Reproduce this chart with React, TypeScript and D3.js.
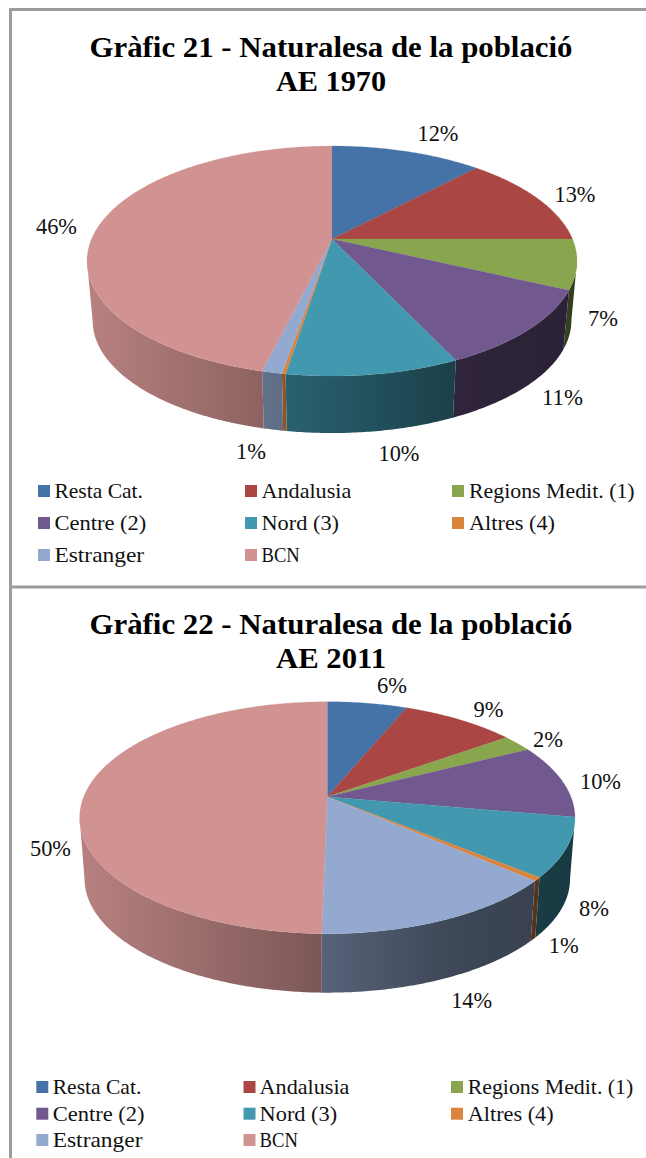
import React from "react";
import * as d3 from "d3";

const categories = ["Resta Cat.", "Andalusia", "Regions Medit. (1)", "Centre (2)", "Nord (3)", "Altres (4)", "Estranger", "BCN"];
const colors = ["#4572a7", "#aa4643", "#89a54e", "#71588f", "#4198af", "#db843d", "#93a9cf", "#d19392"];
const values1970 = [12, 13, 7, 11, 9.5, 0.2, 1.1, 46.2];
const values2011 = [6.2, 8.9, 2.4, 10.3, 8.2, 0.5, 13.8, 49.7];
const labels1970 = ["12%", "13%", "7%", "11%", "10%", "", "1%", "46%"];
const labels2011 = ["6%", "9%", "2%", "10%", "8%", "1%", "14%", "50%"];
const legendWidths = [88.6, 89.8, 165.6, 91.9, 77.5, 86, 89.8, 38.3];

const SERIF = "'Liberation Serif', serif";
const TAU = Math.PI * 2;

type Cfg = {
  id: string; title1: string; title2: string; titleY: [number, number]; titleX: number;
  values: number[]; labels: string[]; labelPos: [number, number][];
  cx: number; apexY: number; rx: number; up: number; down: number; wallScale: number; wallOff: number;
  legendX: number[]; legendTextX: number[]; legendY: number[];
};

const charts: Cfg[] = [
  {
    id: "a", title1: "Gràfic 21 - Naturalesa de la població", title2: "AE 1970", titleY: [56.7, 90.7], titleX: 331,
    values: values1970, labels: labels1970,
    labelPos: [[438, 140.5], [575, 202], [603, 325.7], [562.5, 405], [399, 461], [0, 0], [251, 459], [56.5, 234]],
    cx: 332, apexY: 239, rx: 245, up: 93, down: 137, wallScale: 0.977, wallOff: 60.2,
    legendX: [38, 245, 452], legendTextX: [54.4, 261.5, 469], legendY: [498, 530, 562],
  },
  {
    id: "b", title1: "Gràfic 22 - Naturalesa de la població", title2: "AE 2011", titleY: [634, 668], titleX: 331,
    values: values2011, labels: labels2011,
    labelPos: [[392, 693], [488.5, 716.7], [548, 746.7], [600.5, 789], [594, 915.7], [563.7, 953], [471.7, 1007.7], [50.5, 855.7]],
    cx: 327.3, apexY: 796.7, rx: 247.7, up: 95, down: 137, wallScale: 0.98, wallOff: 61.7,
    legendX: [36.3, 243.5, 451], legendTextX: [52.7, 259.6, 467.7], legendY: [1094, 1120.7, 1147],
  },
];

const shade = d3.scaleLinear<number>().domain([0, 0.36, 0.5, 0.75, 1]).range([0.88, 0.67, 0.58, 0.42, 0.38]).clamp(true);

function scaleColor(hex: string, f: number) {
  const c = d3.rgb(hex);
  return d3.rgb(c.r * f, c.g * f, c.b * f).formatHex();
}

function Pie3D({ c }: { c: Cfg }) {
  const k = (c.down - c.up) / (c.down + c.up);
  const B = c.up * (1 + k);
  const A = c.rx * Math.sqrt(1 - k * k);
  const project = (t: number, r = 1): [number, number] => {
    const x = r * Math.sin(t);
    const y = -r * Math.cos(t);
    const w = 1 - k * y;
    return [c.cx + (A * x) / w, c.apexY + (B * y) / w];
  };
  const projectLow = (t: number): [number, number] => {
    const [x, y] = project(t);
    return [c.cx + (x - c.cx) * c.wallScale, c.apexY + (y - c.apexY) * c.wallScale + c.wallOff];
  };
  const arcs = d3.pie<number>().sort(null).value((d) => d)(c.values);
  const line = d3.line().curve(d3.curveLinear);
  const samples = (a: number, b: number) => {
    const n = Math.max(2, Math.ceil((b - a) / 0.01));
    return d3.range(n + 1).map((i) => a + ((b - a) * i) / n);
  };
  const visA = Math.PI - Math.acos(k);
  const visB = TAU - visA;
  const xFrac = d3.scaleLinear().domain([c.cx - c.rx, c.cx + c.rx]).range([0, 1]);

  return (
    <g>
      <defs>
        {arcs.map((s, i) => {
          const a = Math.max(s.startAngle, visA);
          const b = Math.min(s.endAngle, visB);
          if (b <= a) return null;
          const xs = samples(a, b).map((t) => project(t)[0]);
          const [x0, x1] = d3.extent(xs) as [number, number];
          const stops = d3.range(7).map((j) => x0 + ((x1 - x0) * j) / 6);
          return (
            <linearGradient key={i} id={`${c.id}w${i}`} gradientUnits="userSpaceOnUse" x1={x0} x2={x1 + 0.01} y1={0} y2={0}>
              {stops.map((x, j) => (
                <stop key={j} offset={j / 6} stopColor={scaleColor(colors[i], shade(xFrac(x)))} />
              ))}
            </linearGradient>
          );
        })}
      </defs>
      {arcs.map((s, i) => {
        const a = Math.max(s.startAngle, visA);
        const b = Math.min(s.endAngle, visB);
        if (b <= a) return null;
        const ts = samples(a, b);
        const pts = [...ts.map((t) => project(t)), ...ts.slice().reverse().map((t) => projectLow(t))];
        return <path key={i} d={line(pts) + "Z"} fill={`url(#${c.id}w${i})`} />;
      })}
      {arcs.map((s, i) => {
        const pts: [number, number][] = [[c.cx, c.apexY], ...samples(s.startAngle, s.endAngle).map((t) => project(t))];
        return <path key={i} d={line(pts) + "Z"} fill={colors[i]} stroke={colors[i]} strokeWidth={0.2} />;
      })}
      {c.labels.map((t, i) =>
        t ? (
          <text key={i} x={c.labelPos[i][0]} y={c.labelPos[i][1]} textAnchor="middle" fontFamily={SERIF} fontSize={22.5} fill="#111" textLength={t.length === 3 ? 41 : 30} lengthAdjust="spacingAndGlyphs">
            {t}
          </text>
        ) : null
      )}
      <text x={c.titleX} y={c.titleY[0]} textAnchor="middle" fontFamily={SERIF} fontWeight="bold" fontSize={30} fill="#000" textLength={483} lengthAdjust="spacingAndGlyphs">
        {c.title1}
      </text>
      <text x={c.titleX} y={c.titleY[1]} textAnchor="middle" fontFamily={SERIF} fontWeight="bold" fontSize={30} fill="#000" textLength={110} lengthAdjust="spacingAndGlyphs">
        {c.title2}
      </text>
      {categories.map((name, i) => {
        const col = i % 3;
        const row = Math.floor(i / 3);
        const y = c.legendY[row];
        return (
          <g key={name}>
            <rect x={c.legendX[col]} y={y - 13} width={12} height={12} fill={colors[i]} />
            <text x={c.legendTextX[col]} y={y} fontFamily={SERIF} fontSize={21.5} fill="#111" textLength={legendWidths[i]} lengthAdjust="spacingAndGlyphs">
              {name}
            </text>
          </g>
        );
      })}
    </g>
  );
}

export default function App() {
  return (
    <svg width={646} height={1158} viewBox="0 0 646 1158" style={{ position: "absolute", left: 0, top: 0, background: "#fff" }}>
      <g fill="none" stroke="#9c9c9c" strokeWidth={3}>
        <path d="M660 9.5H10.5V587H660" />
        <path d="M10.5 1170V587" />
      </g>
      {charts.map((c) => (
        <Pie3D key={c.id} c={c} />
      ))}
    </svg>
  );
}
